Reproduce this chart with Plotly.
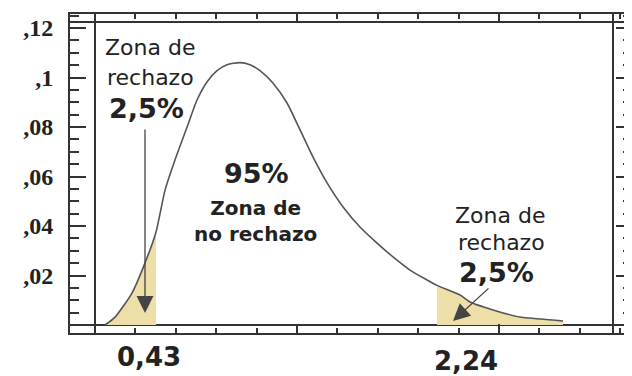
import plotly.graph_objects as go

# ---------------- data ----------------
curve_x = [0.101, 0.166, 0.275, 0.359, 0.43, 0.488, 0.552, 0.630, 0.694, 0.758,
           0.823, 0.887, 0.971, 1.035, 1.100, 1.183, 1.274, 1.358, 1.441, 1.532,
           1.635, 1.744, 1.854, 1.957, 2.066, 2.176, 2.24, 2.389, 2.453, 2.601,
           2.775, 2.988, 3.052]
curve_y = [0.0, 0.0032, 0.0129, 0.0251, 0.0376, 0.0545, 0.0667, 0.0800, 0.0909, 0.0982,
           0.1028, 0.1052, 0.1060, 0.1052, 0.1028, 0.0978, 0.0897, 0.0788, 0.0679, 0.0574,
           0.0477, 0.0396, 0.0331, 0.0275, 0.0222, 0.0182, 0.0160, 0.0121, 0.0093, 0.0061,
           0.0032, 0.0020, 0.0016]
critical = [0.43, 2.24]
critical_labels = ["0,43", "2,24"]
y_tickvals = [0.02, 0.04, 0.06, 0.08, 0.10, 0.12]
y_ticktext = [",02", ",04", ",06", ",08", ",1", ",12"]
tail_text = ["Zona de", "rechazo", "2,5%"]
center_text = ["95%", "Zona de<br>no rechazo"]

# ---------------- layout geometry ----------------
# the page body has an 8px margin, so the figure starts at (8, 8) in the window
OFF = 8
W, H = 632 - OFF, 376 - OFF
PL, PR, PT, PB = 70, 632, 14, 333          # plot area in window pixels
L, R, T, B = PL - OFF, 632 - PR, PT - OFF, 376 - PB
PW, PH = PR - PL, PB - PT


def px(xp):
    return (xp - PL) / PW


def py(yp):
    return (PB - yp) / PH


FILL = "#EEDFA8"
LINE = "#555555"
FRAME = "#333333"
TXT = "#222222"

left_x = [x for x in curve_x if x <= critical[0]]
left_y = [y for x, y in zip(curve_x, curve_y) if x <= critical[0]]
right_x = [x for x in curve_x if x >= critical[1]]
right_y = [y for x, y in zip(curve_x, curve_y) if x >= critical[1]]

fig = go.Figure()
fig.add_trace(go.Scatter(x=left_x, y=left_y, fill="tozeroy", fillcolor=FILL,
                         mode="lines", line=dict(width=0, shape="spline", smoothing=0.6),
                         hoverinfo="skip"))
fig.add_trace(go.Scatter(x=right_x, y=right_y, fill="tozeroy", fillcolor=FILL,
                         mode="lines", line=dict(width=0, shape="spline", smoothing=0.6),
                         hoverinfo="skip"))
fig.add_trace(go.Scatter(x=curve_x, y=curve_y, mode="lines",
                         line=dict(color=LINE, width=1.6, shape="spline", smoothing=0.6),
                         hoverinfo="skip"))

k = 0.02 / 49.5
ppu = 155.2
x0px = 89.3
step = 40.4

fig.update_layout(
    width=W, height=H,
    margin=dict(l=L, r=R, t=T, b=B, pad=0, autoexpand=False),
    paper_bgcolor="white", plot_bgcolor="white",
    showlegend=False,
    xaxis=dict(
        range=[(PL - x0px) / ppu, (PR - x0px) / ppu], automargin=False,
        showgrid=False, zeroline=False, showticklabels=False,
        showline=True, linecolor=FRAME, linewidth=2, mirror="allticks",
        ticks="inside", ticklen=9, tickwidth=1.5, tickcolor=FRAME,
        tick0=(297 - x0px) / ppu, dtick=5 * step / ppu,
        minor=dict(ticks="inside", ticklen=5, tickwidth=1.5, tickcolor=FRAME,
                   tick0=(297 - x0px) / ppu, dtick=step / ppu),
    ),
    yaxis=dict(
        range=[(325 - PB) * k, (325 - PT) * k], automargin=False,
        showgrid=False, zeroline=True, zerolinecolor=FRAME, zerolinewidth=2,
        showline=True, linecolor=FRAME, linewidth=2, mirror="allticks",
        ticks="inside", ticklen=16, tickwidth=1.5, tickcolor=FRAME,
        tickvals=y_tickvals, ticktext=y_ticktext, ticklabelstandoff=10,
        tickfont=dict(family="Liberation Serif", size=24, color=TXT, weight="bold"),
        minor=dict(ticks="inside", ticklen=9, tickwidth=1.5, tickcolor=FRAME,
                   tick0=0, dtick=0.005),
    ),
)

# inner frame lines (double border)
shapes = [
    dict(type="line", xref="paper", yref="paper", x0=px(95), x1=px(95), y0=0, y1=1,
         line=dict(color=FRAME, width=2)),
    dict(type="line", xref="paper", yref="paper", x0=px(613), x1=px(613), y0=0, y1=1,
         line=dict(color=FRAME, width=2)),
    dict(type="line", xref="paper", yref="paper", x0=0, x1=1, y0=py(22), y1=py(22),
         line=dict(color=FRAME, width=2)),
]
fig.update_layout(shapes=shapes)

anns = []


def txt(s, xc, yc, size, bold=False, family="DejaVu Sans"):
    anns.append(dict(text=s, xref="paper", yref="paper", x=px(xc), y=py(yc),
                     xanchor="center", yanchor="middle", showarrow=False,
                     font=dict(family=family, size=size, color=TXT,
                               weight="bold" if bold else "normal")))


# left tail labels
txt(tail_text[0], 150, 47.3, 22)
txt(tail_text[1], 150, 77.3, 22)
txt(tail_text[2], 146, 108.5, 27, bold=True)
# center labels
txt(center_text[0], 256, 173.5, 27, bold=True)
txt(center_text[1], 255, 221, 20, bold=True)
# right tail labels
txt(tail_text[0], 500, 215.3, 22)
txt(tail_text[1], 501, 242.3, 22)
txt(tail_text[2], 496, 272.5, 27, bold=True)
# critical values below axis
txt(critical_labels[0], 149, 357, 26, bold=True)
txt(critical_labels[1], 466, 361, 26, bold=True)

# arrows
anns.append(dict(text="", xref="paper", yref="paper", x=px(145), y=py(313),
                 ax=0, ay=128 - 313, showarrow=True, arrowhead=2, arrowsize=2.6,
                 arrowwidth=1.3, arrowcolor="#444444", standoff=0))
anns.append(dict(text="", xref="paper", yref="paper", x=px(453), y=py(321),
                 ax=490 - 453, ay=287 - 321, showarrow=True, arrowhead=2, arrowsize=2.6,
                 arrowwidth=1.3, arrowcolor="#444444", standoff=0))
fig.update_layout(annotations=anns)

fig.write_html("out.html")
